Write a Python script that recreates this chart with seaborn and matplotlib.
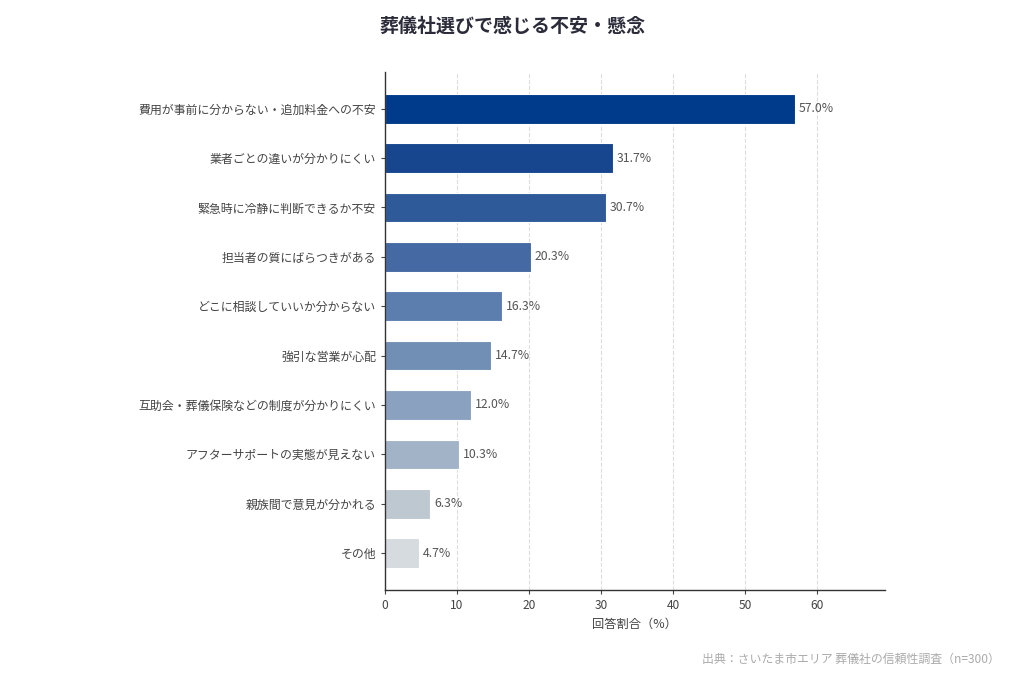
import matplotlib
matplotlib.use("Agg")
import pandas as pd
import matplotlib.pyplot as plt
import seaborn as sns

# data
categories = [
    "費用が事前に分からない・追加料金への不安",
    "業者ごとの違いが分かりにくい",
    "緊急時に冷静に判断できるか不安",
    "担当者の質にばらつきがある",
    "どこに相談していいか分からない",
    "強引な営業が心配",
    "互助会・葬儀保険などの制度が分かりにくい",
    "アフターサポートの実態が見えない",
    "親族間で意見が分かれる",
    "その他",
]
values = [57.0, 31.7, 30.7, 20.3, 16.3, 14.7, 12.0, 10.3, 6.3, 4.7]
bar_colors = ["#003A8A", "#17468E", "#2E5A99", "#4569A2", "#5C7EAE",
              "#718FB5", "#8AA1C0", "#A3B3C7", "#BEC8D1", "#D5DBDF"]

df = pd.DataFrame({"item": categories, "pct": values})

sns.set_style("white")
plt.rcParams["font.family"] = ["Noto Sans CJK JP", "DejaVu Sans"]

fig = plt.figure(figsize=(10.24, 6.83), dpi=100)
ax = fig.add_axes([0.376, 0.136, 0.488, 0.759])

sns.barplot(data=df, y="item", x="pct", hue="item", palette=bar_colors,
            saturation=1, legend=False, width=0.6, edgecolor="white",
            linewidth=0.8, ax=ax)

for i, v in enumerate(values):
    ax.text(v + 0.5, i, f"{v:.1f}%", va="center", ha="left",
            fontsize=8.8, color="#555555")

ax.set_xlim(0, 69.4)
ax.set_ylim(9.75, -0.75)
ax.set_xticks([0, 10, 20, 30, 40, 50, 60])
ax.set_xlabel("回答割合（%）", fontsize=8.8, color="#444444")
ax.set_ylabel("")
ax.tick_params(axis="both", labelsize=8.6, colors="#444444", length=3)
ax.tick_params(axis="y", left=True)
ax.tick_params(axis="x", bottom=True)

ax.xaxis.grid(True, linestyle="--", color="#dddddd", linewidth=0.8)
ax.set_axisbelow(True)
for s in ["top", "right"]:
    ax.spines[s].set_visible(False)
for s in ["left", "bottom"]:
    ax.spines[s].set_color("#333333")
    ax.spines[s].set_linewidth(1.0)

fig.text(0.5, 0.975, "葬儀社選びで感じる不安・懸念", ha="center", va="top",
         fontsize=13.7, fontweight="bold", color="#2b2b3a")
fig.text(0.976, 0.025, "出典：さいたま市エリア 葬儀社の信頼性調査（n=300）",
         ha="right", va="bottom", fontsize=8.6, color="#aaaaaa")

fig.savefig("out.png", dpi=100)
